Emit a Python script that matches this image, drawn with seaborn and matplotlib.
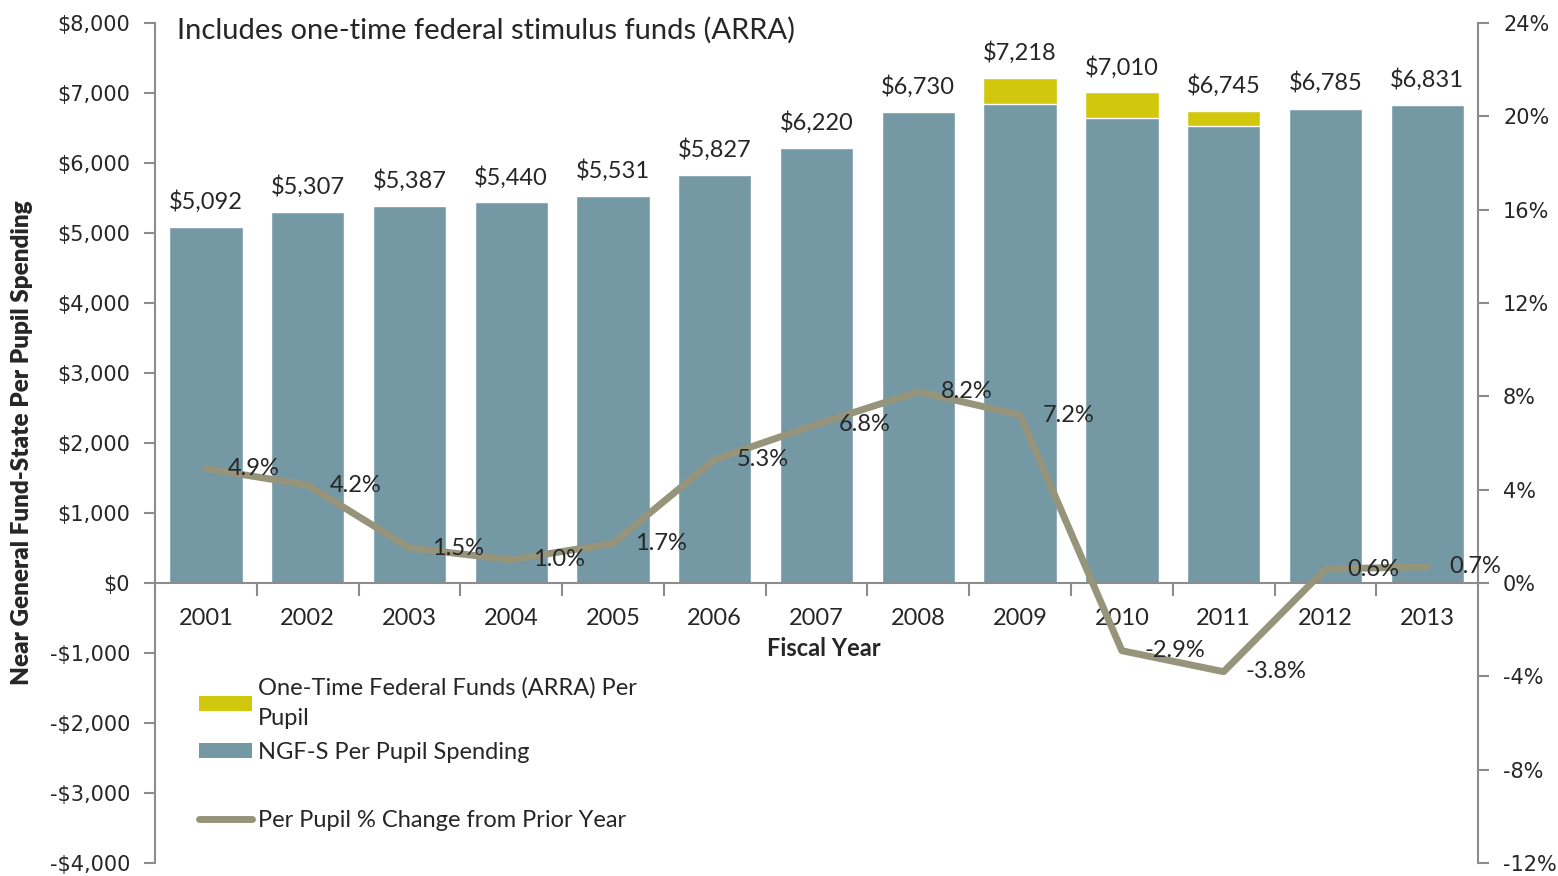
import matplotlib
matplotlib.use("Agg")
import matplotlib.pyplot as plt
import matplotlib.ticker as mticker
from matplotlib.patches import Patch
from matplotlib.lines import Line2D
import numpy as np
import pandas as pd
import seaborn as sns

# data
years = ['2001', '2002', '2003', '2004', '2005', '2006', '2007',
         '2008', '2009', '2010', '2011', '2012', '2013']
ngfs = [5092, 5307, 5387, 5440, 5531, 5827, 6220, 6730, 6847, 6647, 6533, 6770, 6831]
arra = [0, 0, 0, 0, 0, 0, 0, 0, 371, 363, 212, 15, 0]
pct_change = [4.9, 4.2, 1.5, 1.0, 1.7, 5.3, 6.8, 8.2, 7.2, -2.9, -3.8, 0.6, 0.7]

df = pd.DataFrame({'year': years, 'ngfs': ngfs, 'arra': arra, 'pct': pct_change})
df['total'] = df['ngfs'] + df['arra']

BLUE = '#7598A5'
YELLOW = '#D1C70D'
LINE = '#96947A'
AXIS = '#8C8C8C'
LABEL_FONT = ['Lato', 'DejaVu Sans']

sns.set_style('white')
plt.rcParams['font.family'] = ['DejaVu Sans']

fig = plt.figure(figsize=(15.58, 8.76), dpi=100)
ax = fig.add_axes([0.0995, 0.0148, 0.8492, 0.9589])

# stacked bars: total (yellow) underneath, NGF-S (blue) on top of it
sns.barplot(data=df, x='year', y='total', color=YELLOW, width=0.72,
            saturation=1, ax=ax)
sns.barplot(data=df, x='year', y='ngfs', color=BLUE, width=0.72,
            saturation=1, ax=ax)

ax.set_ylim(-4000, 8000)
ax.set_xlim(-0.5, len(years) - 0.5)
ax.yaxis.set_major_locator(mticker.MultipleLocator(1000))
ax.yaxis.set_major_formatter(mticker.FuncFormatter(
    lambda v, p: ('-$' if v < 0 else '$') + f'{abs(v):,.0f}'))

for s in ['top', 'right']:
    ax.spines[s].set_visible(False)
ax.spines['left'].set_color(AXIS)
ax.spines['left'].set_linewidth(1.5)
ax.spines['bottom'].set_position(('data', 0))
ax.spines['bottom'].set_color(AXIS)
ax.spines['bottom'].set_linewidth(1.5)

ax.tick_params(axis='y', which='major', direction='out', length=8, width=1.5,
               color=AXIS, labelsize=15, pad=10, left=True)
ax.set_xticks(np.arange(len(years)) - 0.5, minor=True)
ax.tick_params(axis='x', which='minor', direction='out', length=9, width=1.5,
               color=AXIS, bottom=True)
ax.tick_params(axis='x', which='major', length=0, pad=18)
for lab in ax.get_xticklabels():
    lab.set_fontfamily(LABEL_FONT)
    lab.set_fontsize(17)

ax.set_xlabel('')
ax.set_ylabel('Near General Fund-State Per Pupil Spending', fontsize=17.5,
              fontweight='heavy', family=LABEL_FONT, labelpad=12)
ax.text(6.07, -930, 'Fiscal Year', fontsize=17, fontweight='bold',
        family=LABEL_FONT, ha='center', va='center')

# total labels on top of bars
for i, tot in enumerate(df['total']):
    ax.annotate(f'${tot:,.0f}', (i, tot), xytext=(0, 10), textcoords='offset points',
                ha='center', va='bottom', fontsize=17, family=LABEL_FONT)

# secondary axis: % change line
ax2 = ax.twinx()
sns.lineplot(x=np.arange(len(years)), y=df['pct'], ax=ax2, color=LINE,
             linewidth=5, solid_capstyle='round', zorder=3)
ax2.set_ylim(-12, 24)
ax2.set_xlim(-0.5, len(years) - 0.5)
ax2.yaxis.set_major_locator(mticker.MultipleLocator(4))
ax2.yaxis.set_major_formatter(mticker.FuncFormatter(lambda v, p: f'{v:.0f}%'))
ax2.set_ylabel('')
for s in ['top', 'left', 'bottom']:
    ax2.spines[s].set_visible(False)
ax2.spines['right'].set_color(AXIS)
ax2.spines['right'].set_linewidth(1.5)
ax2.tick_params(axis='y', direction='out', length=8, width=1.5, color=AXIS,
                labelsize=15, pad=10, right=True)

for i, v in enumerate(df['pct']):
    ax2.annotate(f'{v:.1f}%', (i, v), xytext=(16, 0), textcoords='offset points',
                 ha='left', va='center', fontsize=17, family=LABEL_FONT, zorder=4)

# subtitle inside plot area
fig.text(0.1136, 0.965, 'Includes one-time federal stimulus funds (ARRA)',
         fontsize=21, family=LABEL_FONT, ha='left', va='center')

# legend
handles = [Patch(facecolor=YELLOW, edgecolor='none'),
           Patch(facecolor=BLUE, edgecolor='none'),
           Patch(facecolor='none', edgecolor='none'),
           Line2D([], [], color=LINE, linewidth=5, solid_capstyle='round')]
labels = ['One-Time Federal Funds (ARRA) Per\nPupil', 'NGF-S Per Pupil Spending',
          ' ', 'Per Pupil % Change from Prior Year']
leg = ax2.legend(handles, labels, loc='upper left', bbox_to_anchor=(0.024, 0.236),
                 frameon=False, prop={'family': LABEL_FONT, 'size': 17},
                 handlelength=2.25, handleheight=0.6, handletextpad=0.25,
                 labelspacing=0.55, borderpad=0)
for t in leg.get_texts():
    t.set_linespacing(1.6)

fig.savefig('out.png', dpi=100)
